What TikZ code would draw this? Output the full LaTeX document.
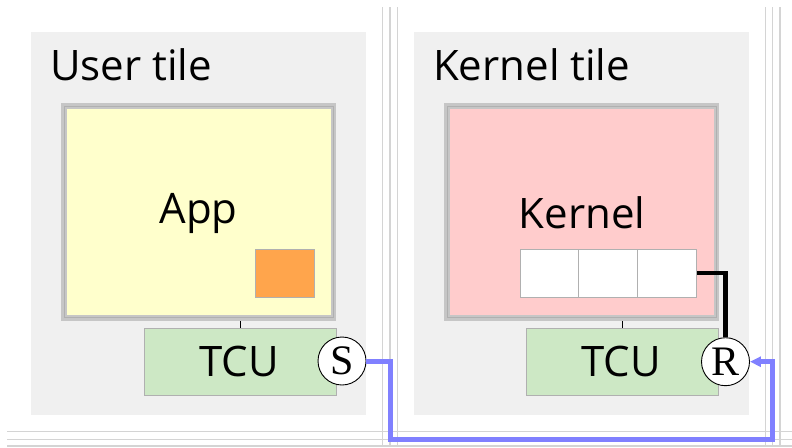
\documentclass[tikz,border=0pt]{standalone}
\usepackage{fontspec}
\setmainfont{Open Sans}
\newfontfamily\serifport{Liberation Serif}
\usetikzlibrary{arrows.meta}
\definecolor{tilebg}{HTML}{F0F0F0}
\definecolor{appyel}{HTML}{FFFFCC}
\definecolor{kernred}{HTML}{FFCCCC}
\definecolor{tcugreen}{HTML}{CDE8C5}
\definecolor{bufor}{HTML}{FFA54C}
\definecolor{frame}{HTML}{C6C6C6}
\definecolor{thinb}{HTML}{B0B0B0}
\definecolor{busgray}{HTML}{D4D4D4}
\definecolor{bluel}{HTML}{8080FF}
\begin{document}
\begin{tikzpicture}[x=1pt,y=-1pt,
  tile/.style={fill=tilebg,draw=none,inner sep=0pt},
  bigbox/.style={draw=frame,line width=5.5pt,inner sep=0pt},
  tcubox/.style={fill=tcugreen,draw=thinb,line width=0.8pt,inner sep=0pt,minimum width=192pt,minimum height=67.4pt},
  slot/.style={fill=white,draw=thinb,line width=0.8pt,inner sep=0pt,minimum width=58.8pt,minimum height=48pt},
  port/.style={circle,fill=white,draw=black,line width=0.9pt,minimum size=48pt,inner sep=0pt,font=\serifport\fontsize{42}{42}\selectfont},
  lbl/.style={inner sep=0pt,anchor=base,font=\fontsize{42}{42}\selectfont},
  title/.style={inner sep=0pt,anchor=base west,font=\fontsize{42}{42}\selectfont},
  bus/.style={draw=busgray,line width=1.4pt},
  link/.style={line width=0.9pt,black},
  ipc/.style={draw=bluel,line width=5pt},
  rec/.style={draw=black,line width=4.2pt},
  innerline/.style={draw=thinb,line width=0.6pt}]
\useasboundingbox (0,0) rectangle (792,447);
% bus lines
\foreach \xx in {382.7,390,397.3,765.7,772.7,780}{
  \draw[bus] (\xx,7) -- (\xx,446);}
\foreach \yy in {431.7,439.3,446}{
  \draw[bus] (7,\yy) -- (792,\yy);}
% tiles
\node[tile,minimum width=335pt,minimum height=383pt] (utile) at (198.5,223.5) {};
\node[tile,minimum width=335pt,minimum height=383pt] (ktile) at (581.5,223.5) {};
\node[title] (utitle) at (50,80) {User tile};
\node[title] (ktitle) at (433,80) {Kernel tile};
% app
\node[bigbox,fill=appyel,minimum width=269.5pt,minimum height=212pt] (app) at (198.5,211.8) {};
\draw[innerline] ([shift={(2.8pt,2.8pt)}]app.south west) rectangle ([shift={(-2.8pt,-2.8pt)}]app.north east);
\node[lbl] (applbl) at (198.5,223) {App};
\node[fill=bufor,draw=thinb,line width=0.8pt,inner sep=0pt,minimum width=58.7pt,minimum height=48.4pt] (buf) at (284.7,273.5) {};
% kernel
\node[bigbox,fill=kernred,minimum width=269.2pt,minimum height=212pt] (kern) at (581.7,211.8) {};
\draw[innerline] ([shift={(2.8pt,2.8pt)}]kern.south west) rectangle ([shift={(-2.8pt,-2.8pt)}]kern.north east);
\node[lbl] (kernlbl) at (582,228.3) {Kernel};
\node[slot] (s1) at (549.5,273.3) {};
\node[slot] (s2) at (608.2,273.3) {};
\node[slot] (s3) at (667.2,273.3) {};
% TCUs
\node[tcubox] (tcu1) at (240,362) {};
\node[lbl] (tcu1lbl) at (239,376.7) {TCU};
\node[tcubox] (tcu2) at (622.8,362) {};
\node[lbl] (tcu2lbl) at (621.3,376.7) {TCU};
\draw[link] (tcu1.north) -- (tcu1.north |- app.south);
\draw[link] (tcu2.north) -- (tcu2.north |- kern.south);
% ports
\node[port] (S) at (342,361) {S};
\node[port] (R) at (725.5,361.7) {R};
\draw[rec] (s3.east) -| (R.north);
% ipc path
\coordinate (bus1) at (390,439);
\coordinate (bus2) at (772.7,439);
\draw[ipc,-{Stealth[length=11pt,width=10pt,inset=0pt]}] (S.east) -| (bus1) -- (bus2) |- (R.east);
\end{tikzpicture}
\end{document}
